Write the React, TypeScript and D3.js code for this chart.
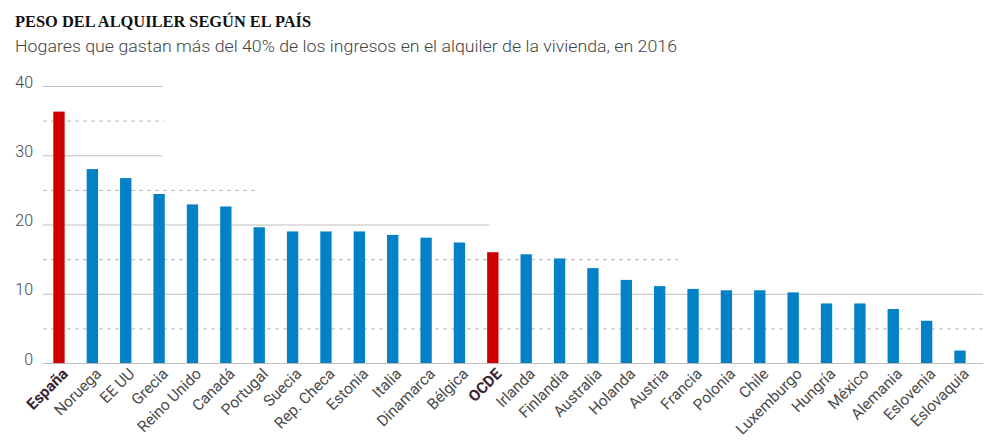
import { useEffect, useRef } from 'react';
import * as d3 from 'd3';

// Countries and share of households spending >40% of income on rent (2016)
const countries = [
  'España', 'Noruega', 'EE UU', 'Grecia', 'Reino Unido', 'Canadá', 'Portugal',
  'Suecia', 'Rep. Checa', 'Estonia', 'Italia', 'Dinamarca', 'Bélgica', 'OCDE',
  'Irlanda', 'Finlandia', 'Australia', 'Holanda', 'Austria', 'Francia',
  'Polonia', 'Chile', 'Luxemburgo', 'Hungría', 'México', 'Alemania',
  'Eslovenia', 'Eslovaquia',
];
const values = [
  36.3, 28.0, 26.7, 24.4, 22.9, 22.6, 19.6,
  19.0, 19.0, 19.0, 18.5, 18.1, 17.4, 16.0,
  15.7, 15.1, 13.7, 12.0, 11.1, 10.7,
  10.5, 10.5, 10.2, 8.6, 8.6, 7.8,
  6.1, 1.8,
];
const highlighted = ['España', 'OCDE'];

const yTicks = [0, 10, 20, 30, 40];
const gridValues = [5, 10, 15, 20, 25, 30, 35, 40];
// how far (in bar slots from the first bar) each grid line reaches
const gridReach = [28.3, 28.3, 18.55, 12.9, 5.95, 3.1, 3.15, 3.1];

const title = 'PESO DEL ALQUILER SEGÚN EL PAÍS';
const subtitle = 'Hogares que gastan más del 40% de los ingresos en el alquiler de la vivienda, en 2016';

export default function App() {
  const svgRef = useRef<SVGSVGElement>(null);

  useEffect(() => {
    if (!svgRef.current) return;
    const width = 997;
    const height = 446;
    const svg = d3.select(svgRef.current);
    svg.selectAll('*').remove();
    svg.attr('width', width).attr('height', height);

    const x = d3.scaleBand<string>()
      .domain(countries)
      .range([42.3, 976.7])
      .paddingInner(0.66)
      .paddingOuter(0.33);
    const y = d3.scaleLinear().domain([0, 40]).range([363, 86]);

    const first = (x(countries[0]) ?? 0) + x.bandwidth() / 2;
    const slot = d3.scaleLinear().domain([0, 1]).range([first, first + x.step()]);

    // titles
    svg.append('text')
      .attr('x', 15).attr('y', 27)
      .attr('font-family', '"Liberation Serif", serif')
      .attr('font-weight', 'bold')
      .attr('font-size', 17)
      .attr('fill', '#111')
      .attr('textLength', 296)
      .attr('lengthAdjust', 'spacingAndGlyphs')
      .text(title);
    svg.append('text')
      .attr('x', 15).attr('y', 52)
      .attr('font-family', 'Roboto, sans-serif')
      .attr('font-weight', 300)
      .attr('font-size', 16.5)
      .attr('fill', '#444')
      .attr('textLength', 662)
      .attr('lengthAdjust', 'spacingAndGlyphs')
      .text(subtitle);

    // grid lines
    const grid = svg.append('g');
    gridValues.forEach((v, i) => {
      const dashed = v % 10 !== 0;
      grid.append('line')
        .attr('x1', 43)
        .attr('x2', Math.min(983, slot(gridReach[i])))
        .attr('y1', y(v) + 0.5).attr('y2', y(v) + 0.5)
        .attr('stroke', dashed ? '#b8b8b8' : '#bfbfbf')
        .attr('stroke-width', 1)
        .attr('stroke-dasharray', dashed ? '4,4' : null);
    });

    // y labels
    svg.append('g')
      .selectAll('text')
      .data(yTicks)
      .join('text')
      .attr('x', 33)
      .attr('y', d => y(d))
      .attr('dy', '0.1em')
      .attr('text-anchor', 'end')
      .attr('font-family', 'Roboto, sans-serif')
      .attr('font-weight', 300)
      .attr('font-size', 16)
      .attr('fill', '#444')
      .text(d => d);

    // bars
    svg.append('g')
      .selectAll('rect')
      .data(countries)
      .join('rect')
      .attr('x', d => x(d) ?? 0)
      .attr('width', x.bandwidth())
      .attr('y', (d, i) => y(values[i]))
      .attr('height', (d, i) => y(0) - y(values[i]))
      .attr('fill', d => highlighted.includes(d) ? '#cc0000' : '#0281c6');

    // baseline
    svg.append('line')
      .attr('x1', 43).attr('x2', 983)
      .attr('y1', y(0) + 0.5).attr('y2', y(0) + 0.5)
      .attr('stroke', '#bdbdbd');

    // category labels
    svg.append('g')
      .selectAll('text')
      .data(countries)
      .join('text')
      .attr('transform', d => {
        const cx = (x(d) ?? 0) + x.bandwidth() / 2 + 6;
        return `translate(${cx},371) rotate(-45)`;
      })
      .attr('text-anchor', 'end')
      .attr('dy', '0.35em')
      .attr('font-family', 'Roboto, sans-serif')
      .attr('font-weight', d => highlighted.includes(d) ? 'bold' : 400)
      .attr('font-size', 15.5)
      .attr('fill', d => highlighted.includes(d) ? '#3b2433' : '#4a4a4a')
      .text(d => d);
  }, []);

  return (
    <div style={{ margin: -8 }}>
      <svg ref={svgRef} style={{ display: 'block' }} />
    </div>
  );
}
